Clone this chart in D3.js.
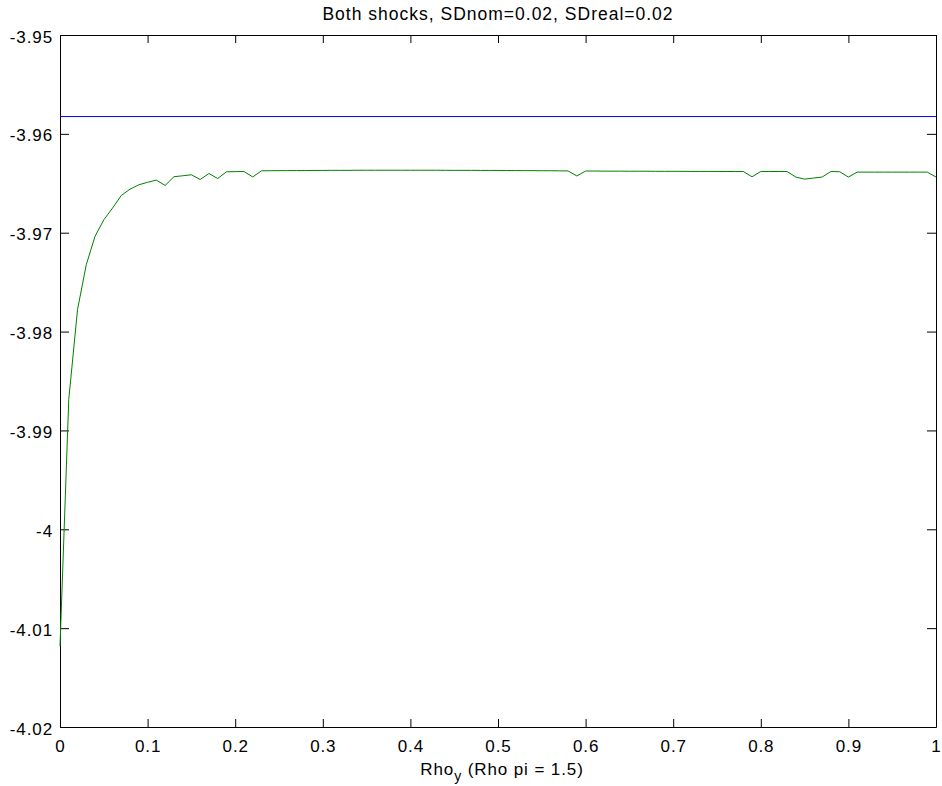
<!DOCTYPE html>
<html>
<head>
<meta charset="utf-8">
<script src="https://cdn.jsdelivr.net/npm/d3@7"></script>
<style>
  body { margin: 0; background: #fff; }
  text { font-family: "Liberation Sans", Arial, sans-serif; fill: #000; }
</style>
</head>
<body>
<script>
// rho_y grid (x) and welfare values
let rhoY = [0, 0.01, 0.02, 0.03, 0.04, 0.05, 0.06, 0.07, 0.08, 0.09,
            0.10, 0.11, 0.12, 0.13, 0.14, 0.15, 0.16, 0.17, 0.18, 0.19,
            0.20, 0.21, 0.22, 0.23, 0.24, 0.25, 0.26, 0.27, 0.28, 0.29,
            0.30, 0.31, 0.32, 0.33, 0.34, 0.35, 0.36, 0.37, 0.38, 0.39,
            0.40, 0.41, 0.42, 0.43, 0.44, 0.45, 0.46, 0.47, 0.48, 0.49,
            0.50, 0.51, 0.52, 0.53, 0.54, 0.55, 0.56, 0.57, 0.58, 0.59,
            0.60, 0.61, 0.62, 0.63, 0.64, 0.65, 0.66, 0.67, 0.68, 0.69,
            0.70, 0.71, 0.72, 0.73, 0.74, 0.75, 0.76, 0.77, 0.78, 0.79,
            0.80, 0.81, 0.82, 0.83, 0.84, 0.85, 0.86, 0.87, 0.88, 0.89,
            0.90, 0.91, 0.92, 0.93, 0.94, 0.95, 0.96, 0.97, 0.98, 0.99, 1.00];

let greenWelfare = [-4.01182, -3.98687, -3.97778, -3.97323, -3.97037, -3.96869, -3.96751, -3.96623, -3.96559, -3.96515,
                    -3.96490, -3.96468, -3.96522, -3.96434, -3.96424, -3.96414, -3.96462, -3.96401, -3.96452, -3.96384,
                    -3.96382, -3.96381, -3.96436, -3.96374, -3.96373, -3.96372, -3.96372, -3.96371, -3.96371, -3.96370,
                    -3.96370, -3.96369, -3.96369, -3.96369, -3.96368, -3.96368, -3.96368, -3.96368, -3.96368, -3.96368,
                    -3.96368, -3.96368, -3.96368, -3.96368, -3.96369, -3.96369, -3.96369, -3.96369, -3.96370, -3.96370,
                    -3.96370, -3.96371, -3.96371, -3.96372, -3.96372, -3.96373, -3.96373, -3.96374, -3.96375, -3.96426,
                    -3.96376, -3.96376, -3.96377, -3.96377, -3.96377, -3.96378, -3.96378, -3.96378, -3.96379, -3.96379,
                    -3.96379, -3.96379, -3.96380, -3.96380, -3.96380, -3.96380, -3.96381, -3.96381, -3.96381, -3.96434,
                    -3.96381, -3.96381, -3.96381, -3.96381, -3.96437, -3.96458, -3.96447, -3.96437, -3.96381, -3.96383,
                    -3.96437, -3.96387, -3.96387, -3.96387, -3.96387, -3.96387, -3.96387, -3.96387, -3.96387, -3.96387, -3.96437];

let blueX = [0, 1];
let blueWelfare = [-3.95825, -3.95825];

let xTicks = [0, 0.1, 0.2, 0.3, 0.4, 0.5, 0.6, 0.7, 0.8, 0.9, 1];
let xTickLabels = ["0", "0.1", "0.2", "0.3", "0.4", "0.5", "0.6", "0.7", "0.8", "0.9", "1"];
let yTicks = [-3.95, -3.96, -3.97, -3.98, -3.99, -4, -4.01, -4.02];
let yTickLabels = ["-3.95", "-3.96", "-3.97", "-3.98", "-3.99", "-4", "-4.01", "-4.02"];

let titleText = "Both shocks, SDnom=0.02, SDreal=0.02";

let width = 942, height = 786;
let plotLeft = 60, plotRight = 936, plotTop = 35, plotBottom = 727;

let svg = d3.select("body").append("svg")
    .attr("width", width)
    .attr("height", height);

let x = d3.scaleLinear().domain([0, 1]).range([plotLeft, plotRight]);
let y = d3.scaleLinear().domain([-4.02, -3.95]).range([plotBottom, plotTop]);

let fmtX = (d, i) => xTickLabels[i];
let fmtY = (d, i) => yTickLabels[i];

// bottom axis with labels, ticks pointing inward
let gx = svg.append("g").attr("transform", `translate(0,${plotBottom})`)
    .call(d3.axisBottom(x).tickValues(xTicks).tickFormat(fmtX).tickSizeInner(-8).tickSizeOuter(0).tickPadding(13));
// top axis, ticks only
svg.append("g").attr("transform", `translate(0,${plotTop})`)
    .call(d3.axisTop(x).tickValues(xTicks).tickFormat("").tickSizeInner(-8).tickSizeOuter(0));
// left axis with labels
let gy = svg.append("g").attr("transform", `translate(${plotLeft},0)`)
    .call(d3.axisLeft(y).tickValues(yTicks).tickFormat(fmtY).tickSizeInner(-9).tickSizeOuter(0).tickPadding(7));
// right axis, ticks only
svg.append("g").attr("transform", `translate(${plotRight},0)`)
    .call(d3.axisRight(y).tickValues(yTicks).tickFormat("").tickSizeInner(-9).tickSizeOuter(0));

svg.selectAll(".domain").attr("stroke", "#000").attr("stroke-width", 1);
svg.selectAll(".tick line").attr("stroke", "#000");
svg.selectAll(".tick text")
    .attr("font-family", "Liberation Sans, Arial, sans-serif")
    .attr("font-size", 17)
    .style("letter-spacing", "0.9px")
    .attr("fill", "#000");
gy.selectAll(".tick text").attr("dy", "0.42em");

// lines
let line = d3.line().x(d => x(d[0])).y(d => y(d[1]));

svg.append("path")
    .datum(blueX.map((v, i) => [v, blueWelfare[i]]))
    .attr("d", line)
    .attr("fill", "none")
    .attr("stroke", "#0000ff")
    .attr("stroke-width", 1);

svg.append("path")
    .datum(rhoY.map((v, i) => [v, greenWelfare[i]]))
    .attr("d", line)
    .attr("fill", "none")
    .attr("stroke", "#008000")
    .attr("stroke-width", 1);

// title
svg.append("text")
    .attr("x", (plotLeft + plotRight) / 2)
    .attr("y", 20)
    .attr("text-anchor", "middle")
    .attr("font-size", 17.5)
    .style("letter-spacing", "1px")
    .text(titleText);

// x label with subscript
let xl = svg.append("text")
    .attr("x", (plotLeft + plotRight) / 2 + 4)
    .attr("y", 775)
    .attr("text-anchor", "middle")
    .attr("font-size", 17)
    .style("letter-spacing", "0.9px");
xl.append("tspan").text("Rho");
xl.append("tspan").attr("font-size", 14).attr("dy", 6).text("y");
xl.append("tspan").attr("dy", -6).text(" (Rho pi = 1.5)");
</script>
</body>
</html>
